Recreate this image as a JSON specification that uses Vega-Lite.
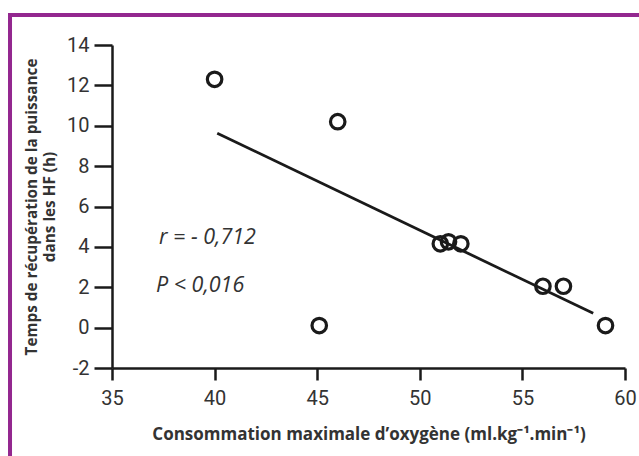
{
  "$schema": "https://vega.github.io/schema/vega-lite/v6.json",
  "width": 513,
  "height": 323,
  "autosize": {"type": "none"},
  "padding": {"left": 112, "top": 45, "right": 14, "bottom": 88},
  "background": "white",
  "config": {
    "view": {"stroke": null},
    "font": "Open Sans"
  },
  "datasets": {
    "points": [
      {"vo2": 40.0, "temps": 12.3},
      {"vo2": 46.0, "temps": 10.2},
      {"vo2": 45.1, "temps": 0.1},
      {"vo2": 51.0, "temps": 4.15},
      {"vo2": 51.4, "temps": 4.25},
      {"vo2": 52.0, "temps": 4.15},
      {"vo2": 56.0, "temps": 2.05},
      {"vo2": 57.0, "temps": 2.05},
      {"vo2": 59.05, "temps": 0.1}
    ],
    "fit": [
      {"vo2": 40.13, "temps": 9.63},
      {"vo2": 58.45, "temps": 0.71}
    ],
    "stats": [
      {"vo2": 37.29, "temps": 4.44, "label": "r = - 0,712"},
      {"vo2": 37.14, "temps": 2.06, "label": "P < 0,016"}
    ],
    "frameTop": [
      {"x1": 30.0, "x2": 60.8, "y": 15.49}
    ],
    "frameLeft": [
      {"x": 30.03, "y1": 15.58, "y2": -6.5}
    ]
  },
  "layer": [
    {
      "data": {"name": "points"},
      "mark": {"type": "point", "shape": "circle", "filled": false, "stroke": "#1a1a1a", "strokeWidth": 3.2, "size": 210, "opacity": 1},
      "encoding": {
        "x": {
          "field": "vo2", "type": "quantitative",
          "scale": {"domain": [35, 60], "nice": false, "zero": false},
          "axis": {
            "values": [35, 40, 45, 50, 55, 60],
            "title": "Consommation maximale d’oxygène (ml.kg⁻¹.min⁻¹)",
            "titleFont": "Open Sans", "titleFontSize": 17, "titleFontWeight": "bold", "titleColor": "#333333",
            "titlePadding": 18,
            "labelFont": "Roboto", "labelFontSize": 20, "labelColor": "#333333", "labelPadding": 8,
            "domainColor": "#1a1a1a", "domainWidth": 2.5, "tickColor": "#1a1a1a", "tickWidth": 2.5, "tickSize": 12,
            "grid": false, "labelFlush": false
          }
        },
        "y": {
          "field": "temps", "type": "quantitative",
          "scale": {"domain": [-2, 14], "nice": false, "zero": false},
          "axis": {
            "values": [-2, 0, 2, 4, 6, 8, 10, 12, 14],
            "labelExpr": "datum.value < 0 ? '-' + abs(datum.value) : '' + datum.value",
            "title": ["Temps de récupération de la puissance", "dans les HF (h)"],
            "titleFont": "Open Sans", "titleFontSize": 15.3, "titleFontWeight": "bold", "titleColor": "#333333",
            "titlePadding": 9, "titleLineHeight": 18,
            "labelFont": "Roboto", "labelFontSize": 20, "labelColor": "#333333", "labelPadding": 5,
            "domainColor": "#1a1a1a", "domainWidth": 2.5, "tickColor": "#1a1a1a", "tickWidth": 2.5, "tickSize": 18,
            "grid": false, "labelFlush": false
          }
        }
      }
    },
    {
      "data": {"name": "fit"},
      "mark": {"type": "line", "color": "#1a1a1a", "strokeWidth": 2.8},
      "encoding": {
        "x": {"field": "vo2", "type": "quantitative"},
        "y": {"field": "temps", "type": "quantitative"}
      }
    },
    {
      "data": {"name": "stats"},
      "mark": {"type": "text", "align": "left", "baseline": "middle", "font": "Open Sans", "fontStyle": "italic", "fontSize": 21.5, "color": "#333333"},
      "encoding": {
        "x": {"field": "vo2", "type": "quantitative"},
        "y": {"field": "temps", "type": "quantitative"},
        "text": {"field": "label", "type": "nominal"}
      }
    },
    {
      "data": {"name": "frameTop"},
      "mark": {"type": "rule", "color": "#93278f", "strokeWidth": 4, "clip": false},
      "encoding": {
        "x": {"field": "x1", "type": "quantitative"},
        "x2": {"field": "x2"},
        "y": {"field": "y", "type": "quantitative"}
      }
    },
    {
      "data": {"name": "frameLeft"},
      "mark": {"type": "rule", "color": "#93278f", "strokeWidth": 4, "clip": false},
      "encoding": {
        "x": {"field": "x", "type": "quantitative"},
        "y": {"field": "y1", "type": "quantitative"},
        "y2": {"field": "y2"}
      }
    }
  ]
}
